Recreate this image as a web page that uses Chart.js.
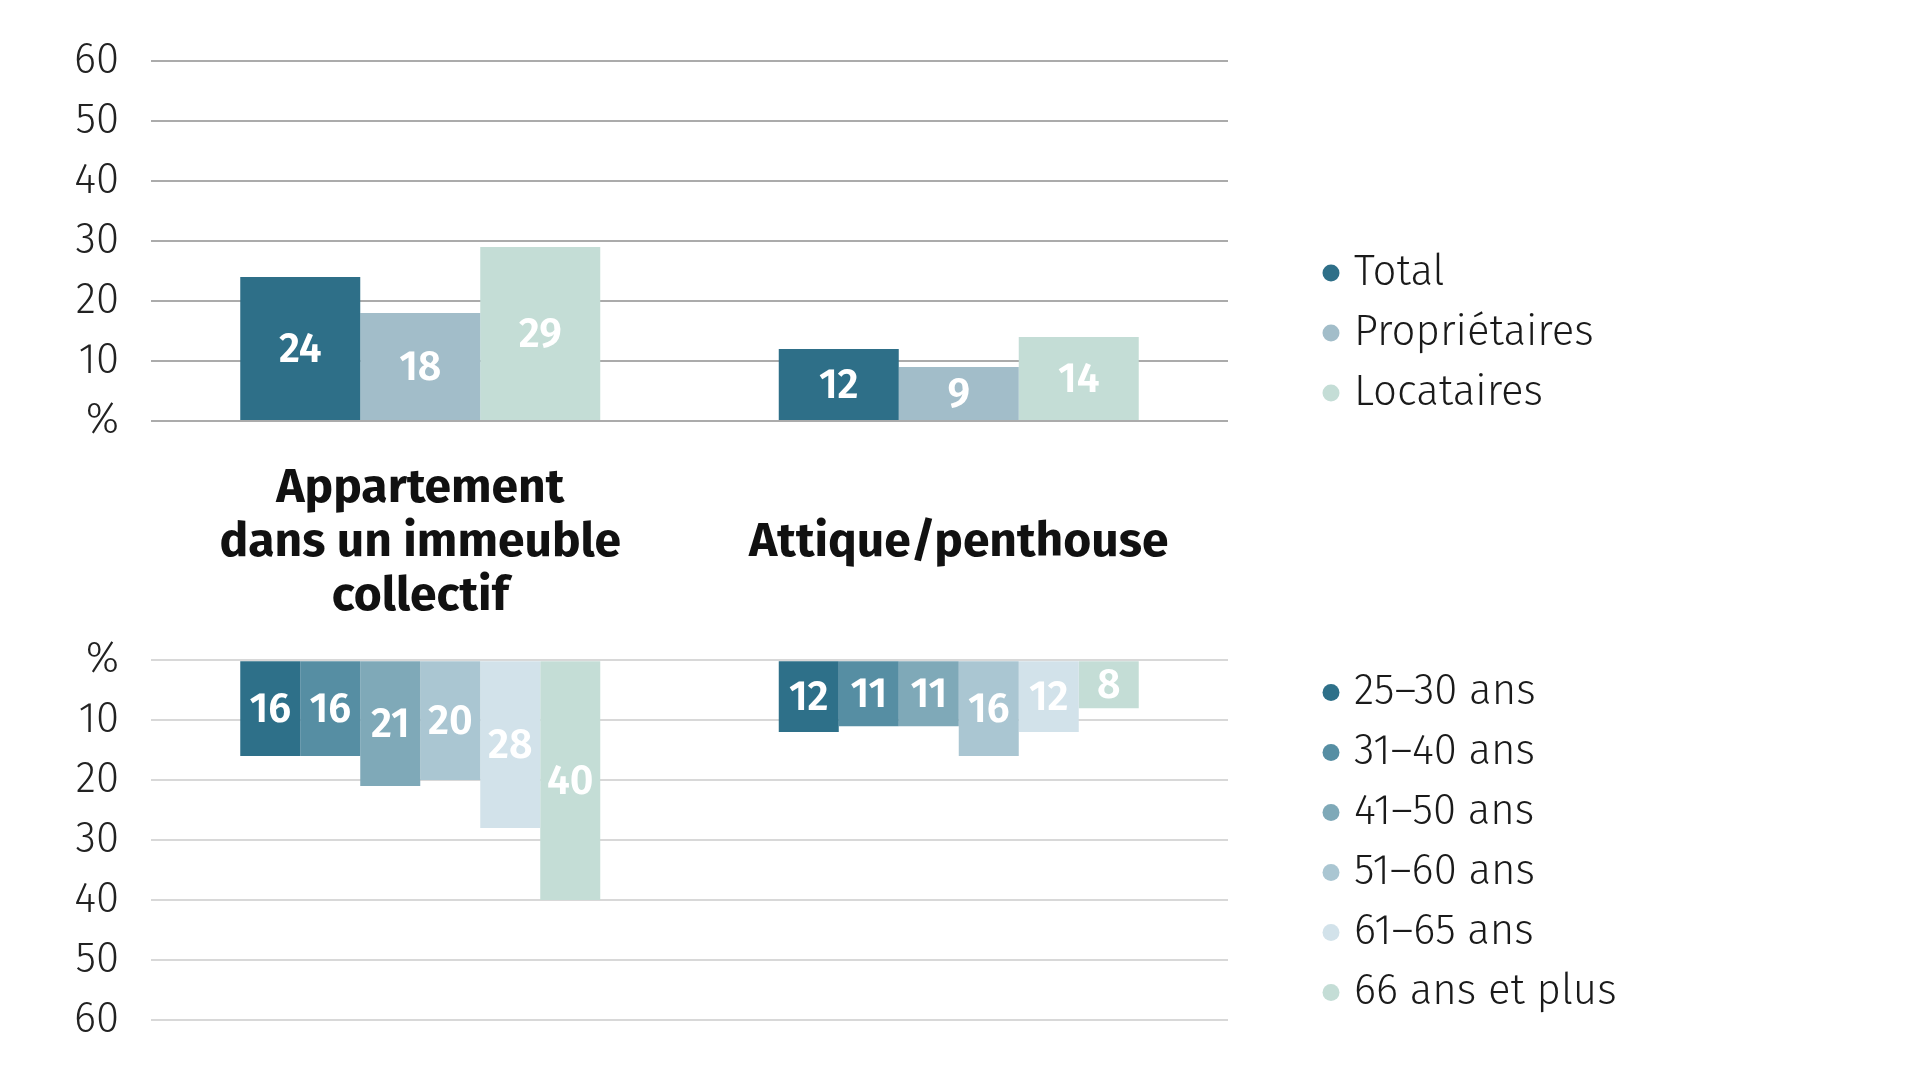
<!DOCTYPE html>
<html lang="fr">
  <head>
    <meta charset="UTF-8" />
    <title>Appartement et attique : propriétaires, locataires et âge</title>
    <style>
      html,
      body {
        margin: 0;
        background: #fff;
      }
      .box-top {
        position: absolute;
        left: 0;
        top: 0;
        width: 1920px;
        height: 719px;
      }
      .box-bottom {
        position: absolute;
        left: 0;
        top: 603px;
        width: 1920px;
        height: 474px;
      }
    </style>
  </head>
  <body>
    <div class="box-top"><canvas id="chartTop"></canvas></div>
    <div class="box-bottom"><canvas id="chartBottom"></canvas></div>

    <script src="https://cdn.jsdelivr.net/npm/chart.js"></script>

    <script>
      // données
      const categories = [
        ["Appartement", "dans un immeuble", "collectif"],
        "Attique/penthouse",
      ];

      const statusLabels = ["Total", "Propriétaires", "Locataires"];
      const totalValues = [24, 12];
      const ownerValues = [18, 9];
      const tenantValues = [29, 14];

      const ageLabels = [
        "25–30 ans",
        "31–40 ans",
        "41–50 ans",
        "51–60 ans",
        "61–65 ans",
        "66 ans et plus",
      ];
      const age25Values = [16, 12];
      const age31Values = [16, 11];
      const age41Values = [21, 11];
      const age51Values = [20, 16];
      const age61Values = [28, 12];
      const age66Values = [40, 8];

      const yTickValues = [0, 10, 20, 30, 40, 50, 60];
      const yTickLabels = ["%", "10", "20", "30", "40", "50", "60"];

      // styles
      const FONT = "'Fira Sans', 'Open Sans', sans-serif";
      const statusColors = ["#2e6f88", "#a2bdc9", "#c4ddd6"];
      const ageColors = [
        "#2e7089",
        "#568ea3",
        "#7fa9b8",
        "#aac6d2",
        "#d2e2ea",
        "#c4ddd6",
      ];
      const LEGEND_FONT = { size: 42, weight: "300" };
      const LEGEND_PAD = 18;
      const LEGEND_BOX = 4;
      const LEGEND_LEFT = 1311; // bord gauche de la légende
      const PLOT_RIGHT = 1228; // bord droit de la zone des barres

      Chart.defaults.font.family = FONT;
      Chart.defaults.color = "#1a1a1a";

      // valeurs en blanc au centre des barres
      const valueLabels = {
        id: "valueLabels",
        afterDatasetsDraw(chart) {
          const ctx = chart.ctx;
          ctx.save();
          ctx.font = "600 41px " + FONT;
          ctx.fillStyle = "#ffffff";
          ctx.textAlign = "center";
          ctx.textBaseline = "middle";
          chart.data.datasets.forEach((ds, i) => {
            chart.getDatasetMeta(i).data.forEach((bar, j) => {
              const p = bar.getCenterPoint();
              ctx.fillText(ds.data[j], p.x, p.y + 2);
            });
          });
          ctx.restore();
        },
      };

      function yAxis(reverse, gridColor) {
        return {
          min: 0,
          max: 60,
          reverse: reverse,
          afterBuildTicks: (s) => {
            s.ticks = yTickValues.map((v) => ({ value: v }));
          },
          afterFit: (s) => {
            s.width = 151;
          },
          ticks: {
            padding: 32,
            font: { size: 42, weight: "300", lineHeight: 1.2 },
            color: "#222",
            callback: (v) => yTickLabels[yTickValues.indexOf(v)],
          },
          grid: { color: gridColor, lineWidth: 2, drawTicks: false },
          border: { display: false },
        };
      }

      // espace vide entre la zone du graphique et la légende
      const gapAxis = {
        position: "right",
        grid: { display: false, drawTicks: false },
        border: { display: false },
        ticks: { display: false },
        afterFit: (s) => {
          s.width = LEGEND_LEFT - PLOT_RIGHT;
        },
      };

      // titre vide : sert seulement à décaler la légende vers le bas
      function legendOptions(align, titleGap) {
        return {
          position: "right",
          align: align,
          maxWidth: 700,
          title: {
            display: true,
            text: "",
            font: { size: 1, lineHeight: 1 },
            padding: { top: titleGap, bottom: 0 },
          },
          labels: {
            usePointStyle: true,
            pointStyle: "circle",
            boxWidth: LEGEND_BOX,
            boxHeight: 12,
            padding: LEGEND_PAD,
            color: "#1a1a1a",
            font: LEGEND_FONT,
          },
        };
      }

      // marge droite pour que la légende commence à LEGEND_LEFT
      function layoutPadding(labels, top, bottom) {
        return ({ chart }) => {
          const ctx = chart.ctx;
          ctx.save();
          ctx.font = LEGEND_FONT.weight + " " + LEGEND_FONT.size + "px " + FONT;
          const w = Math.max(...labels.map((t) => ctx.measureText(t).width));
          ctx.restore();
          const legendWidth =
            LEGEND_PAD + LEGEND_BOX + LEGEND_FONT.size / 2 + w + 10;
          return {
            top: top,
            bottom: bottom,
            left: 0,
            right: Math.max(0, chart.width - LEGEND_LEFT - legendWidth),
          };
        };
      }

      function makeDatasets(labels, series, colors) {
        return labels.map((label, i) => ({
          label: label,
          data: series[i],
          backgroundColor: colors[i],
          borderWidth: 0,
          categoryPercentage: 0.6685,
          barPercentage: 1,
        }));
      }

      new Chart(document.getElementById("chartTop"), {
        type: "bar",
        data: {
          labels: categories,
          datasets: makeDatasets(
            statusLabels,
            [totalValues, ownerValues, tenantValues],
            statusColors
          ),
        },
        options: {
          responsive: true,
          maintainAspectRatio: false,
          animation: false,
          layout: { padding: layoutPadding(statusLabels, 61, 0) },
          scales: {
            x: {
              grid: { display: false, drawTicks: false },
              border: { display: false },
              ticks: {
                padding: 68,
                crossAlign: "center",
                maxRotation: 0,
                autoSkip: false,
                color: "#111",
                font: { size: 48, weight: "bold", lineHeight: 54 / 48 },
              },
            },
            y: yAxis(false, "#ababab"),
            gap: gapAxis,
          },
          plugins: {
            legend: legendOptions("start", 172),
            tooltip: { enabled: false },
          },
        },
        plugins: [valueLabels],
      });

      new Chart(document.getElementById("chartBottom"), {
        type: "bar",
        data: {
          labels: categories,
          datasets: makeDatasets(
            ageLabels,
            [
              age25Values,
              age31Values,
              age41Values,
              age51Values,
              age61Values,
              age66Values,
            ],
            ageColors
          ),
        },
        options: {
          responsive: true,
          maintainAspectRatio: false,
          animation: false,
          layout: { padding: layoutPadding(ageLabels, 0, 0) },
          scales: {
            x: { display: false },
            y: yAxis(true, "#d8d8d8"),
            gap: gapAxis,
          },
          plugins: {
            legend: legendOptions("center", 4),
            tooltip: { enabled: false },
          },
        },
        plugins: [valueLabels],
      });
    </script>
  </body>
</html>
